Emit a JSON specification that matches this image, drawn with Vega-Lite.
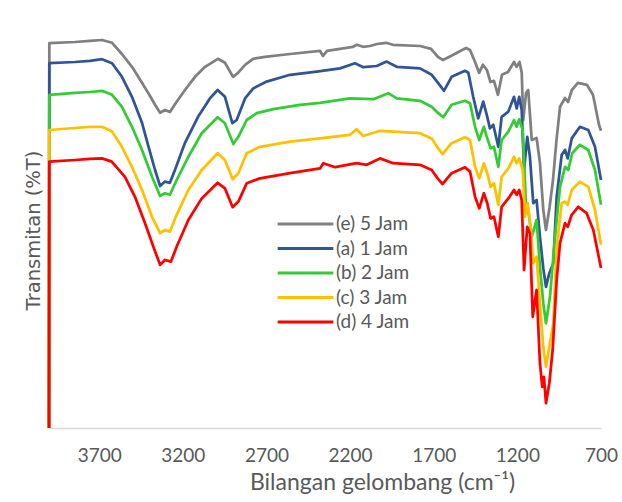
{
  "$schema": "https://vega.github.io/schema/vega-lite/v6.json",
  "width": 552,
  "height": 396,
  "autosize": {"type": "none"},
  "padding": {"left": 49, "top": 32, "right": 21, "bottom": 74},
  "background": "white",
  "config": {
    "view": {"stroke": null},
    "font": "Lato"
  },
  "data": {
    "values": [
      {"s":"(e) 5 Jam","wn":4000,"t":0},{"s":"(e) 5 Jam","wn":3998,"t":96.2},{"s":"(e) 5 Jam","wn":3845,"t":96.5},{"s":"(e) 5 Jam","wn":3755,"t":96.8},{"s":"(e) 5 Jam","wn":3683,"t":97.0},{"s":"(e) 5 Jam","wn":3623,"t":96.3},{"s":"(e) 5 Jam","wn":3564,"t":93.5},{"s":"(e) 5 Jam","wn":3504,"t":90.3},{"s":"(e) 5 Jam","wn":3444,"t":86.3},{"s":"(e) 5 Jam","wn":3396,"t":83.0},{"s":"(e) 5 Jam","wn":3366,"t":80.8},{"s":"(e) 5 Jam","wn":3336,"t":78.8},{"s":"(e) 5 Jam","wn":3307,"t":79.5},{"s":"(e) 5 Jam","wn":3277,"t":79.0},{"s":"(e) 5 Jam","wn":3241,"t":81.3},{"s":"(e) 5 Jam","wn":3187,"t":84.5},{"s":"(e) 5 Jam","wn":3127,"t":87.8},{"s":"(e) 5 Jam","wn":3067,"t":90.3},{"s":"(e) 5 Jam","wn":2990,"t":92.3},{"s":"(e) 5 Jam","wn":2948,"t":91.3},{"s":"(e) 5 Jam","wn":2900,"t":87.8},{"s":"(e) 5 Jam","wn":2870,"t":88.8},{"s":"(e) 5 Jam","wn":2828,"t":90.8},{"s":"(e) 5 Jam","wn":2780,"t":92.3},{"s":"(e) 5 Jam","wn":2709,"t":92.8},{"s":"(e) 5 Jam","wn":2559,"t":93.5},{"s":"(e) 5 Jam","wn":2380,"t":94.3},{"s":"(e) 5 Jam","wn":2362,"t":93.0},{"s":"(e) 5 Jam","wn":2338,"t":94.3},{"s":"(e) 5 Jam","wn":2260,"t":94.8},{"s":"(e) 5 Jam","wn":2183,"t":95.3},{"s":"(e) 5 Jam","wn":2159,"t":95.8},{"s":"(e) 5 Jam","wn":2123,"t":95.3},{"s":"(e) 5 Jam","wn":2081,"t":95.5},{"s":"(e) 5 Jam","wn":2039,"t":96.0},{"s":"(e) 5 Jam","wn":1985,"t":96.3},{"s":"(e) 5 Jam","wn":1944,"t":95.8},{"s":"(e) 5 Jam","wn":1782,"t":95.5},{"s":"(e) 5 Jam","wn":1716,"t":94.8},{"s":"(e) 5 Jam","wn":1675,"t":92.8},{"s":"(e) 5 Jam","wn":1645,"t":92.0},{"s":"(e) 5 Jam","wn":1597,"t":93.0},{"s":"(e) 5 Jam","wn":1507,"t":95.0},{"s":"(e) 5 Jam","wn":1483,"t":94.5},{"s":"(e) 5 Jam","wn":1453,"t":91.5},{"s":"(e) 5 Jam","wn":1429,"t":88.8},{"s":"(e) 5 Jam","wn":1406,"t":90.8},{"s":"(e) 5 Jam","wn":1382,"t":89.5},{"s":"(e) 5 Jam","wn":1361,"t":86.5},{"s":"(e) 5 Jam","wn":1340,"t":86.8},{"s":"(e) 5 Jam","wn":1316,"t":83.3},{"s":"(e) 5 Jam","wn":1292,"t":88.3},{"s":"(e) 5 Jam","wn":1256,"t":89.0},{"s":"(e) 5 Jam","wn":1220,"t":91.5},{"s":"(e) 5 Jam","wn":1205,"t":90.3},{"s":"(e) 5 Jam","wn":1187,"t":91.5},{"s":"(e) 5 Jam","wn":1174,"t":88.8},{"s":"(e) 5 Jam","wn":1165,"t":77.0},{"s":"(e) 5 Jam","wn":1148,"t":83.8},{"s":"(e) 5 Jam","wn":1135,"t":84.5},{"s":"(e) 5 Jam","wn":1114,"t":72.0},{"s":"(e) 5 Jam","wn":1085,"t":72.5},{"s":"(e) 5 Jam","wn":1065,"t":66.3},{"s":"(e) 5 Jam","wn":1045,"t":54.5},{"s":"(e) 5 Jam","wn":1029,"t":49.5},{"s":"(e) 5 Jam","wn":1008,"t":55.0},{"s":"(e) 5 Jam","wn":987,"t":62.0},{"s":"(e) 5 Jam","wn":966,"t":72.0},{"s":"(e) 5 Jam","wn":945,"t":80.3},{"s":"(e) 5 Jam","wn":915,"t":82.5},{"s":"(e) 5 Jam","wn":897,"t":81.5},{"s":"(e) 5 Jam","wn":874,"t":84.5},{"s":"(e) 5 Jam","wn":838,"t":86.3},{"s":"(e) 5 Jam","wn":784,"t":85.8},{"s":"(e) 5 Jam","wn":748,"t":83.3},{"s":"(e) 5 Jam","wn":712,"t":75.8},{"s":"(e) 5 Jam","wn":700,"t":74.3},
      {"s":"(a) 1 Jam","wn":4000,"t":0},{"s":"(a) 1 Jam","wn":3998,"t":91.2},{"s":"(a) 1 Jam","wn":3845,"t":91.5},{"s":"(a) 1 Jam","wn":3755,"t":91.8},{"s":"(a) 1 Jam","wn":3683,"t":92.2},{"s":"(a) 1 Jam","wn":3623,"t":91.2},{"s":"(a) 1 Jam","wn":3564,"t":87.8},{"s":"(a) 1 Jam","wn":3504,"t":82.8},{"s":"(a) 1 Jam","wn":3444,"t":76.3},{"s":"(a) 1 Jam","wn":3408,"t":70.8},{"s":"(a) 1 Jam","wn":3366,"t":64.5},{"s":"(a) 1 Jam","wn":3336,"t":60.5},{"s":"(a) 1 Jam","wn":3307,"t":61.6},{"s":"(a) 1 Jam","wn":3277,"t":61.3},{"s":"(a) 1 Jam","wn":3247,"t":64.5},{"s":"(a) 1 Jam","wn":3187,"t":71.3},{"s":"(a) 1 Jam","wn":3109,"t":77.8},{"s":"(a) 1 Jam","wn":3038,"t":82.4},{"s":"(a) 1 Jam","wn":2992,"t":84.5},{"s":"(a) 1 Jam","wn":2948,"t":82.8},{"s":"(a) 1 Jam","wn":2904,"t":76.2},{"s":"(a) 1 Jam","wn":2878,"t":77.0},{"s":"(a) 1 Jam","wn":2828,"t":82.4},{"s":"(a) 1 Jam","wn":2779,"t":84.9},{"s":"(a) 1 Jam","wn":2699,"t":86.6},{"s":"(a) 1 Jam","wn":2559,"t":88.3},{"s":"(a) 1 Jam","wn":2400,"t":89.1},{"s":"(a) 1 Jam","wn":2260,"t":89.9},{"s":"(a) 1 Jam","wn":2171,"t":91.2},{"s":"(a) 1 Jam","wn":2121,"t":90.2},{"s":"(a) 1 Jam","wn":2041,"t":90.5},{"s":"(a) 1 Jam","wn":1981,"t":91.6},{"s":"(a) 1 Jam","wn":1921,"t":90.3},{"s":"(a) 1 Jam","wn":1782,"t":89.9},{"s":"(a) 1 Jam","wn":1712,"t":88.3},{"s":"(a) 1 Jam","wn":1673,"t":86.2},{"s":"(a) 1 Jam","wn":1639,"t":84.3},{"s":"(a) 1 Jam","wn":1593,"t":87.8},{"s":"(a) 1 Jam","wn":1513,"t":89.3},{"s":"(a) 1 Jam","wn":1493,"t":88.8},{"s":"(a) 1 Jam","wn":1464,"t":82.8},{"s":"(a) 1 Jam","wn":1434,"t":77.4},{"s":"(a) 1 Jam","wn":1404,"t":81.6},{"s":"(a) 1 Jam","wn":1383,"t":78.3},{"s":"(a) 1 Jam","wn":1364,"t":74.9},{"s":"(a) 1 Jam","wn":1344,"t":75.8},{"s":"(a) 1 Jam","wn":1314,"t":70.3},{"s":"(a) 1 Jam","wn":1294,"t":77.8},{"s":"(a) 1 Jam","wn":1254,"t":79.1},{"s":"(a) 1 Jam","wn":1220,"t":82.8},{"s":"(a) 1 Jam","wn":1204,"t":79.9},{"s":"(a) 1 Jam","wn":1189,"t":82.8},{"s":"(a) 1 Jam","wn":1174,"t":79.5},{"s":"(a) 1 Jam","wn":1160,"t":64.5},{"s":"(a) 1 Jam","wn":1141,"t":72.8},{"s":"(a) 1 Jam","wn":1125,"t":67.8},{"s":"(a) 1 Jam","wn":1105,"t":56.2},{"s":"(a) 1 Jam","wn":1085,"t":57.0},{"s":"(a) 1 Jam","wn":1065,"t":47.8},{"s":"(a) 1 Jam","wn":1045,"t":39.9},{"s":"(a) 1 Jam","wn":1029,"t":35.3},{"s":"(a) 1 Jam","wn":1009,"t":38.7},{"s":"(a) 1 Jam","wn":985,"t":41.2},{"s":"(a) 1 Jam","wn":965,"t":57.8},{"s":"(a) 1 Jam","wn":935,"t":68.3},{"s":"(a) 1 Jam","wn":915,"t":69.5},{"s":"(a) 1 Jam","wn":899,"t":67.4},{"s":"(a) 1 Jam","wn":875,"t":72.4},{"s":"(a) 1 Jam","wn":826,"t":75.3},{"s":"(a) 1 Jam","wn":776,"t":74.5},{"s":"(a) 1 Jam","wn":736,"t":70.3},{"s":"(a) 1 Jam","wn":700,"t":62.0},
      {"s":"(b) 2 Jam","wn":4000,"t":0},{"s":"(b) 2 Jam","wn":3998,"t":83.3},{"s":"(b) 2 Jam","wn":3845,"t":83.8},{"s":"(b) 2 Jam","wn":3755,"t":84.0},{"s":"(b) 2 Jam","wn":3683,"t":84.3},{"s":"(b) 2 Jam","wn":3623,"t":83.3},{"s":"(b) 2 Jam","wn":3564,"t":80.3},{"s":"(b) 2 Jam","wn":3504,"t":75.3},{"s":"(b) 2 Jam","wn":3444,"t":69.5},{"s":"(b) 2 Jam","wn":3384,"t":62.8},{"s":"(b) 2 Jam","wn":3336,"t":58.0},{"s":"(b) 2 Jam","wn":3307,"t":58.7},{"s":"(b) 2 Jam","wn":3277,"t":58.3},{"s":"(b) 2 Jam","wn":3237,"t":62.0},{"s":"(b) 2 Jam","wn":3167,"t":67.8},{"s":"(b) 2 Jam","wn":3087,"t":73.7},{"s":"(b) 2 Jam","wn":2992,"t":77.7},{"s":"(b) 2 Jam","wn":2948,"t":76.2},{"s":"(b) 2 Jam","wn":2898,"t":71.0},{"s":"(b) 2 Jam","wn":2868,"t":72.8},{"s":"(b) 2 Jam","wn":2818,"t":77.0},{"s":"(b) 2 Jam","wn":2758,"t":78.7},{"s":"(b) 2 Jam","wn":2659,"t":79.7},{"s":"(b) 2 Jam","wn":2500,"t":80.8},{"s":"(b) 2 Jam","wn":2380,"t":81.3},{"s":"(b) 2 Jam","wn":2201,"t":82.4},{"s":"(b) 2 Jam","wn":2061,"t":82.2},{"s":"(b) 2 Jam","wn":1972,"t":83.7},{"s":"(b) 2 Jam","wn":1921,"t":82.4},{"s":"(b) 2 Jam","wn":1782,"t":81.8},{"s":"(b) 2 Jam","wn":1712,"t":80.3},{"s":"(b) 2 Jam","wn":1673,"t":78.7},{"s":"(b) 2 Jam","wn":1643,"t":77.7},{"s":"(b) 2 Jam","wn":1593,"t":80.8},{"s":"(b) 2 Jam","wn":1513,"t":81.8},{"s":"(b) 2 Jam","wn":1483,"t":81.2},{"s":"(b) 2 Jam","wn":1453,"t":75.3},{"s":"(b) 2 Jam","wn":1428,"t":72.0},{"s":"(b) 2 Jam","wn":1400,"t":75.3},{"s":"(b) 2 Jam","wn":1383,"t":72.8},{"s":"(b) 2 Jam","wn":1360,"t":69.9},{"s":"(b) 2 Jam","wn":1340,"t":70.3},{"s":"(b) 2 Jam","wn":1314,"t":65.3},{"s":"(b) 2 Jam","wn":1294,"t":72.0},{"s":"(b) 2 Jam","wn":1254,"t":74.1},{"s":"(b) 2 Jam","wn":1220,"t":77.0},{"s":"(b) 2 Jam","wn":1204,"t":75.3},{"s":"(b) 2 Jam","wn":1189,"t":77.2},{"s":"(b) 2 Jam","wn":1168,"t":74.5},{"s":"(b) 2 Jam","wn":1149,"t":56.2},{"s":"(b) 2 Jam","wn":1135,"t":54.5},{"s":"(b) 2 Jam","wn":1114,"t":47.8},{"s":"(b) 2 Jam","wn":1085,"t":52.0},{"s":"(b) 2 Jam","wn":1065,"t":40.3},{"s":"(b) 2 Jam","wn":1045,"t":31.2},{"s":"(b) 2 Jam","wn":1029,"t":26.2},{"s":"(b) 2 Jam","wn":1005,"t":32.8},{"s":"(b) 2 Jam","wn":975,"t":47.8},{"s":"(b) 2 Jam","wn":945,"t":60.3},{"s":"(b) 2 Jam","wn":915,"t":65.3},{"s":"(b) 2 Jam","wn":896,"t":64.5},{"s":"(b) 2 Jam","wn":872,"t":68.7},{"s":"(b) 2 Jam","wn":826,"t":70.8},{"s":"(b) 2 Jam","wn":776,"t":69.5},{"s":"(b) 2 Jam","wn":736,"t":64.5},{"s":"(b) 2 Jam","wn":700,"t":55.8},
      {"s":"(c) 3 Jam","wn":4000,"t":0},{"s":"(c) 3 Jam","wn":3998,"t":74.5},{"s":"(c) 3 Jam","wn":3845,"t":75.0},{"s":"(c) 3 Jam","wn":3755,"t":75.3},{"s":"(c) 3 Jam","wn":3683,"t":75.3},{"s":"(c) 3 Jam","wn":3623,"t":74.1},{"s":"(c) 3 Jam","wn":3564,"t":70.3},{"s":"(c) 3 Jam","wn":3504,"t":65.3},{"s":"(c) 3 Jam","wn":3444,"t":59.5},{"s":"(c) 3 Jam","wn":3384,"t":52.8},{"s":"(c) 3 Jam","wn":3336,"t":48.7},{"s":"(c) 3 Jam","wn":3307,"t":49.5},{"s":"(c) 3 Jam","wn":3277,"t":49.1},{"s":"(c) 3 Jam","wn":3237,"t":53.3},{"s":"(c) 3 Jam","wn":3167,"t":59.5},{"s":"(c) 3 Jam","wn":3087,"t":64.5},{"s":"(c) 3 Jam","wn":2992,"t":68.7},{"s":"(c) 3 Jam","wn":2948,"t":67.0},{"s":"(c) 3 Jam","wn":2902,"t":62.2},{"s":"(c) 3 Jam","wn":2868,"t":63.7},{"s":"(c) 3 Jam","wn":2818,"t":68.7},{"s":"(c) 3 Jam","wn":2739,"t":70.3},{"s":"(c) 3 Jam","wn":2559,"t":71.6},{"s":"(c) 3 Jam","wn":2380,"t":72.4},{"s":"(c) 3 Jam","wn":2201,"t":73.3},{"s":"(c) 3 Jam","wn":2161,"t":74.7},{"s":"(c) 3 Jam","wn":2121,"t":73.0},{"s":"(c) 3 Jam","wn":2021,"t":74.3},{"s":"(c) 3 Jam","wn":1942,"t":74.1},{"s":"(c) 3 Jam","wn":1782,"t":73.7},{"s":"(c) 3 Jam","wn":1712,"t":72.4},{"s":"(c) 3 Jam","wn":1673,"t":69.9},{"s":"(c) 3 Jam","wn":1647,"t":68.5},{"s":"(c) 3 Jam","wn":1593,"t":71.2},{"s":"(c) 3 Jam","wn":1513,"t":72.7},{"s":"(c) 3 Jam","wn":1483,"t":72.0},{"s":"(c) 3 Jam","wn":1453,"t":65.3},{"s":"(c) 3 Jam","wn":1428,"t":62.4},{"s":"(c) 3 Jam","wn":1400,"t":66.2},{"s":"(c) 3 Jam","wn":1380,"t":63.7},{"s":"(c) 3 Jam","wn":1360,"t":60.3},{"s":"(c) 3 Jam","wn":1340,"t":61.2},{"s":"(c) 3 Jam","wn":1314,"t":55.8},{"s":"(c) 3 Jam","wn":1294,"t":62.8},{"s":"(c) 3 Jam","wn":1254,"t":64.9},{"s":"(c) 3 Jam","wn":1220,"t":67.8},{"s":"(c) 3 Jam","wn":1204,"t":66.2},{"s":"(c) 3 Jam","wn":1189,"t":67.4},{"s":"(c) 3 Jam","wn":1168,"t":64.5},{"s":"(c) 3 Jam","wn":1154,"t":52.8},{"s":"(c) 3 Jam","wn":1138,"t":56.2},{"s":"(c) 3 Jam","wn":1120,"t":50.3},{"s":"(c) 3 Jam","wn":1105,"t":41.2},{"s":"(c) 3 Jam","wn":1085,"t":42.8},{"s":"(c) 3 Jam","wn":1065,"t":31.2},{"s":"(c) 3 Jam","wn":1045,"t":20.3},{"s":"(c) 3 Jam","wn":1029,"t":15.3},{"s":"(c) 3 Jam","wn":1009,"t":20.3},{"s":"(c) 3 Jam","wn":985,"t":26.2},{"s":"(c) 3 Jam","wn":965,"t":45.3},{"s":"(c) 3 Jam","wn":935,"t":56.2},{"s":"(c) 3 Jam","wn":915,"t":56.6},{"s":"(c) 3 Jam","wn":899,"t":55.8},{"s":"(c) 3 Jam","wn":875,"t":59.5},{"s":"(c) 3 Jam","wn":826,"t":61.6},{"s":"(c) 3 Jam","wn":776,"t":60.3},{"s":"(c) 3 Jam","wn":736,"t":54.5},{"s":"(c) 3 Jam","wn":700,"t":45.8},
      {"s":"(d) 4 Jam","wn":4000,"t":0},{"s":"(d) 4 Jam","wn":3998,"t":66.6},{"s":"(d) 4 Jam","wn":3845,"t":67.0},{"s":"(d) 4 Jam","wn":3755,"t":67.3},{"s":"(d) 4 Jam","wn":3683,"t":67.4},{"s":"(d) 4 Jam","wn":3625,"t":66.6},{"s":"(d) 4 Jam","wn":3546,"t":62.8},{"s":"(d) 4 Jam","wn":3486,"t":57.8},{"s":"(d) 4 Jam","wn":3426,"t":51.2},{"s":"(d) 4 Jam","wn":3376,"t":45.3},{"s":"(d) 4 Jam","wn":3336,"t":40.8},{"s":"(d) 4 Jam","wn":3307,"t":42.0},{"s":"(d) 4 Jam","wn":3271,"t":41.6},{"s":"(d) 4 Jam","wn":3237,"t":45.3},{"s":"(d) 4 Jam","wn":3167,"t":52.0},{"s":"(d) 4 Jam","wn":3087,"t":57.4},{"s":"(d) 4 Jam","wn":2992,"t":61.3},{"s":"(d) 4 Jam","wn":2948,"t":59.9},{"s":"(d) 4 Jam","wn":2902,"t":55.2},{"s":"(d) 4 Jam","wn":2868,"t":56.6},{"s":"(d) 4 Jam","wn":2818,"t":61.2},{"s":"(d) 4 Jam","wn":2739,"t":62.4},{"s":"(d) 4 Jam","wn":2559,"t":63.7},{"s":"(d) 4 Jam","wn":2380,"t":64.9},{"s":"(d) 4 Jam","wn":2360,"t":66.2},{"s":"(d) 4 Jam","wn":2290,"t":65.2},{"s":"(d) 4 Jam","wn":2161,"t":66.2},{"s":"(d) 4 Jam","wn":2101,"t":65.8},{"s":"(d) 4 Jam","wn":2021,"t":67.4},{"s":"(d) 4 Jam","wn":1942,"t":66.2},{"s":"(d) 4 Jam","wn":1782,"t":65.8},{"s":"(d) 4 Jam","wn":1712,"t":64.5},{"s":"(d) 4 Jam","wn":1673,"t":62.2},{"s":"(d) 4 Jam","wn":1647,"t":61.0},{"s":"(d) 4 Jam","wn":1593,"t":63.7},{"s":"(d) 4 Jam","wn":1513,"t":65.2},{"s":"(d) 4 Jam","wn":1483,"t":64.1},{"s":"(d) 4 Jam","wn":1453,"t":57.8},{"s":"(d) 4 Jam","wn":1428,"t":54.9},{"s":"(d) 4 Jam","wn":1400,"t":58.7},{"s":"(d) 4 Jam","wn":1380,"t":56.2},{"s":"(d) 4 Jam","wn":1360,"t":52.4},{"s":"(d) 4 Jam","wn":1340,"t":52.8},{"s":"(d) 4 Jam","wn":1314,"t":47.8},{"s":"(d) 4 Jam","wn":1294,"t":55.3},{"s":"(d) 4 Jam","wn":1254,"t":57.4},{"s":"(d) 4 Jam","wn":1220,"t":59.5},{"s":"(d) 4 Jam","wn":1204,"t":58.3},{"s":"(d) 4 Jam","wn":1189,"t":59.5},{"s":"(d) 4 Jam","wn":1174,"t":57.0},{"s":"(d) 4 Jam","wn":1160,"t":39.5},{"s":"(d) 4 Jam","wn":1141,"t":50.3},{"s":"(d) 4 Jam","wn":1125,"t":48.7},{"s":"(d) 4 Jam","wn":1108,"t":27.8},{"s":"(d) 4 Jam","wn":1085,"t":34.5},{"s":"(d) 4 Jam","wn":1065,"t":16.2},{"s":"(d) 4 Jam","wn":1051,"t":10.3},{"s":"(d) 4 Jam","wn":1041,"t":12.8},{"s":"(d) 4 Jam","wn":1029,"t":6.2},{"s":"(d) 4 Jam","wn":1009,"t":11.2},{"s":"(d) 4 Jam","wn":989,"t":19.5},{"s":"(d) 4 Jam","wn":965,"t":37.0},{"s":"(d) 4 Jam","wn":945,"t":46.2},{"s":"(d) 4 Jam","wn":915,"t":51.2},{"s":"(d) 4 Jam","wn":899,"t":50.3},{"s":"(d) 4 Jam","wn":875,"t":53.3},{"s":"(d) 4 Jam","wn":836,"t":55.3},{"s":"(d) 4 Jam","wn":786,"t":53.7},{"s":"(d) 4 Jam","wn":746,"t":49.5},{"s":"(d) 4 Jam","wn":700,"t":40.0}
    ]
  },
  "mark": {"type": "line", "strokeWidth": 2.75, "strokeJoin": "round", "strokeCap": "butt"},
  "encoding": {
    "x": {
      "field": "wn",
      "type": "quantitative",
      "scale": {"domain": [700, 4000], "reverse": true, "nice": false, "zero": false},
      "axis": {
        "values": [3700, 3200, 2700, 2200, 1700, 1200, 700],
        "format": "d",
        "grid": false,
        "ticks": false,
        "domainColor": "#d9d9d9",
        "domainWidth": 1.5,
        "labelFlush": false,
        "labelOverlap": false,
        "labelFont": "Lato",
        "labelFontSize": 19,
        "labelColor": "#595959",
        "labelPadding": 18,
        "title": "Bilangan gelombang (cm⁻¹)",
        "titleFont": "Lato",
        "titleFontSize": 23,
        "titleFontWeight": "normal",
        "titleColor": "#595959",
        "titlePadding": 6,
        "titleX": 333
      }
    },
    "y": {
      "field": "t",
      "type": "quantitative",
      "scale": {"domain": [0, 99], "nice": false, "zero": false},
      "axis": {
        "labels": false,
        "ticks": false,
        "domain": false,
        "grid": false,
        "minExtent": 0,
        "maxExtent": 0,
        "title": "Transmitan (%T)",
        "titleFont": "DejaVu Sans",
        "titleFontSize": 19.5,
        "titleFontWeight": "normal",
        "titleColor": "#595959",
        "titlePadding": 6
      }
    },
    "color": {
      "field": "s",
      "type": "nominal",
      "scale": {
        "domain": ["(e) 5 Jam", "(a) 1 Jam", "(b) 2 Jam", "(c) 3 Jam", "(d) 4 Jam"],
        "range": ["#808080", "#2F5597", "#33CC33", "#FFC000", "#FF0000"]
      },
      "legend": {
        "title": null,
        "orient": "none",
        "legendX": 227,
        "legendY": 182,
        "symbolType": "stroke",
        "symbolSize": 3100,
        "symbolStrokeWidth": 3,
        "clipHeight": 20,
        "labelFont": "Lato",
        "labelFontSize": 19,
        "labelColor": "#595959",
        "labelOffset": 1,
        "rowPadding": 4.5
      }
    }
  }
}
